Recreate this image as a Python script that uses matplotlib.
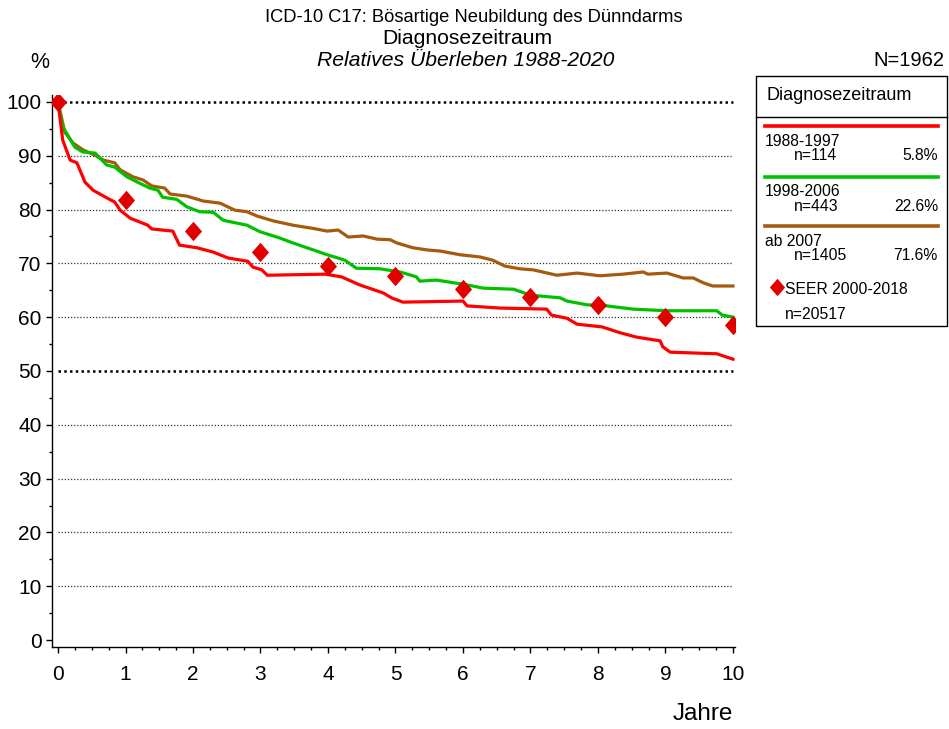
import matplotlib
matplotlib.use("Agg")
import matplotlib.pyplot as plt
from matplotlib.patches import Rectangle
from matplotlib.lines import Line2D
from matplotlib.path import Path
from matplotlib.ticker import MultipleLocator

plt.rcParams['font.family'] = ['Liberation Sans', 'DejaVu Sans']

# --- data -------------------------------------------------------------
red_t = [0, 0.07, 0.18, 0.28, 0.40, 0.52, 0.72, 0.84, 0.92, 1.07, 1.33, 1.39, 1.70, 1.80,
         2.06, 2.30, 2.52, 2.81, 2.89, 3.02, 3.10, 3.96, 4.20, 4.47, 4.82, 4.94, 5.11, 6.00,
         6.06, 6.55, 7.24, 7.31, 7.54, 7.69, 8.06, 8.33, 8.57, 8.92, 8.96, 9.07, 9.76, 10.0]
red_v = [100, 92.9, 89.2, 88.7, 85.1, 83.6, 82.2, 81.4, 79.9, 78.4, 77.1, 76.4, 76.0, 73.4,
         72.9, 72.1, 71.0, 70.4, 69.3, 68.8, 67.8, 68.0, 67.5, 66.0, 64.5, 63.6, 62.8, 63.0,
         62.1, 61.7, 61.5, 60.4, 59.8, 58.7, 58.2, 57.1, 56.3, 55.6, 54.5, 53.5, 53.2, 52.2]

green_t = [0, 0.07, 0.25, 0.37, 0.55, 0.72, 0.84, 1.02, 1.21, 1.36, 1.48, 1.55, 1.76, 1.91,
           2.10, 2.30, 2.45, 2.80, 2.99, 3.29, 3.48, 3.69, 3.99, 4.25, 4.42, 4.77, 5.07, 5.31,
           5.36, 5.61, 6.06, 6.30, 6.75, 7.00, 7.44, 7.54, 7.84, 8.13, 8.52, 9.02, 9.76, 9.84, 10.0]
green_v = [100, 95.4, 91.6, 90.7, 90.5, 88.3, 87.9, 86.1, 84.9, 84.0, 83.6, 82.3, 81.9, 80.5,
           79.6, 79.5, 78.0, 77.1, 75.9, 74.7, 73.8, 72.9, 71.6, 70.6, 69.1, 69.0, 68.4, 67.5,
           66.7, 66.9, 66.0, 65.4, 65.2, 64.1, 63.6, 63.0, 62.3, 62.1, 61.5, 61.2, 61.2, 60.4, 60.0]

brown_t = [0, 0.10, 0.22, 0.37, 0.55, 0.67, 0.84, 0.92, 1.11, 1.26, 1.39, 1.58, 1.66, 1.91,
           2.15, 2.40, 2.62, 2.80, 2.95, 3.19, 3.48, 3.78, 3.99, 4.15, 4.30, 4.52, 4.73, 4.92,
           5.02, 5.26, 5.47, 5.66, 5.96, 6.25, 6.44, 6.62, 6.84, 7.04, 7.39, 7.69, 8.03, 8.37,
           8.67, 8.74, 9.02, 9.26, 9.41, 9.56, 9.70, 10.0]
brown_v = [100, 94.4, 92.4, 91.1, 90.1, 89.2, 88.7, 87.4, 86.1, 85.5, 84.4, 84.0, 82.9, 82.5,
           81.6, 81.2, 79.9, 79.6, 78.8, 77.9, 77.1, 76.5, 76.0, 76.2, 74.9, 75.1, 74.5, 74.4,
           73.8, 72.9, 72.5, 72.3, 71.6, 71.2, 70.6, 69.5, 69.0, 68.8, 67.8, 68.2, 67.7, 68.0,
           68.4, 68.0, 68.2, 67.3, 67.3, 66.4, 65.8, 65.8]

seer_t = [0, 1, 2, 3, 4, 5, 6, 7, 8, 9, 10]
seer_v = [100, 81.7, 76.1, 72.2, 69.6, 67.6, 65.3, 63.8, 62.2, 60.0, 58.6]

grid_levels = [10, 20, 30, 40, 60, 70, 80, 90]
bold_levels = [50, 100]
y_ticks = [0, 10, 20, 30, 40, 50, 60, 70, 80, 90, 100]
x_ticks = [0, 1, 2, 3, 4, 5, 6, 7, 8, 9, 10]

series_labels = ['1988-1997', '1998-2006', 'ab 2007']
series_n = ['n=114', 'n=443', 'n=1405']
series_pct = ['5.8%', '22.6%', '71.6%']
RED, GREEN, BROWN = '#ff0000', '#00c000', '#a55a0e'
colors = [RED, GREEN, BROWN]
DIAMOND_COLOR = '#e00000'
diamond = Path([(0, 1), (0.88, 0), (0, -1), (-0.88, 0), (0, 1)],
               [Path.MOVETO, Path.LINETO, Path.LINETO, Path.LINETO, Path.CLOSEPOLY])

# --- figure -----------------------------------------------------------
W, H = 949, 729
fig = plt.figure(figsize=(W / 100, H / 100), dpi=100)
ax = fig.add_axes([52 / W, 1 - 647 / H, (735 - 52) / W, (647 - 95) / H])
ax.set_xlim(-0.089, 10.03)
ax.set_ylim(-1.3, 101.3)

for lv in grid_levels:
    ax.plot([0, 10], [lv, lv], color='#333333', lw=0.9, ls=(0, (1, 1.5)), zorder=1)
for lv in bold_levels:
    ax.plot([0, 10], [lv, lv], color='black', lw=1.8, ls=(0, (1, 1.3)), zorder=1)

ax.plot(brown_t, brown_v, color=BROWN, lw=2.3, zorder=3, solid_joinstyle='round')
ax.plot(green_t, green_v, color=GREEN, lw=2.3, zorder=4, solid_joinstyle='round')
ax.plot(red_t, red_v, color=RED, lw=2.3, zorder=5, solid_joinstyle='round')
ax.plot(seer_t, seer_v, ls='none', marker=diamond, color=DIAMOND_COLOR, markersize=14,
        markeredgewidth=0, zorder=6)

for s in ['top', 'right']:
    ax.spines[s].set_visible(False)
ax.spines['left'].set_linewidth(1.0)
ax.spines['bottom'].set_linewidth(1.0)

ax.set_xticks(x_ticks)
ax.set_yticks(y_ticks)
ax.xaxis.set_minor_locator(MultipleLocator(0.25))
ax.yaxis.set_minor_locator(MultipleLocator(5))
ax.tick_params(axis='both', which='major', direction='out', length=4.5, width=1,
               labelsize=15)
ax.tick_params(axis='y', which='major', pad=3)
ax.tick_params(axis='x', which='major', pad=8.5)
ax.tick_params(axis='both', which='minor', direction='out', length=2.5, width=1)

# --- texts ------------------------------------------------------------
fig.text(474 / W, 1 - 17 / H, 'ICD-10 C17: Bösartige Neubildung des Dünndarms',
         ha='center', va='center', fontsize=13.2)
fig.text(467 / W, 1 - 38 / H, 'Diagnosezeitraum', ha='center', va='center', fontsize=15.2)
fig.text(466 / W, 1 - 60 / H, 'Relatives Überleben 1988-2020', ha='center', va='center',
         fontsize=15.2, style='italic')
fig.text(40 / W, 1 - 62 / H, '%', ha='center', va='center', fontsize=15.5)
fig.text(944 / W, 1 - 60 / H, 'N=1962', ha='right', va='center', fontsize=14.5)
fig.text(733 / W, 1 - 714 / H, 'Jahre', ha='right', va='center', fontsize=17.5)

# --- legend box -------------------------------------------------------
def fx(px):
    return px / W


def fy(py):
    return 1 - py / H


fig.patches.append(Rectangle((fx(756), fy(326)), fx(946.5) - fx(756), fy(76) - fy(326),
                             transform=fig.transFigure, fill=False, edgecolor='black', lw=1.0))
fig.lines.append(Line2D([fx(756), fx(946.5)], [fy(116.5), fy(116.5)], transform=fig.transFigure,
                        color='black', lw=1.0))
fig.text(fx(766), fy(96), 'Diagnosezeitraum', ha='left', va='center', fontsize=13)

line_y = [126, 176.5, 226]
for i in range(3):
    ly = line_y[i]
    fig.lines.append(Line2D([fx(765), fx(938)], [fy(ly), fy(ly)], transform=fig.transFigure,
                            color=colors[i], lw=2.6))
    fig.text(fx(765), fy(ly + 15), series_labels[i], ha='left', va='center', fontsize=11.3)
    fig.text(fx(794), fy(ly + 30), series_n[i], ha='left', va='center', fontsize=11.3)
    fig.text(fx(938), fy(ly + 30), series_pct[i], ha='right', va='center', fontsize=11.3)

fig.lines.append(Line2D([fx(777)], [fy(287)], transform=fig.transFigure, marker=diamond,
                        color=DIAMOND_COLOR, markersize=12.5, markeredgewidth=0, ls='none'))
fig.text(fx(785), fy(290), 'SEER 2000-2018', ha='left', va='center', fontsize=11.3)
fig.text(fx(785), fy(315), 'n=20517', ha='left', va='center', fontsize=11.3)

fig.savefig('out.png', dpi=100)
